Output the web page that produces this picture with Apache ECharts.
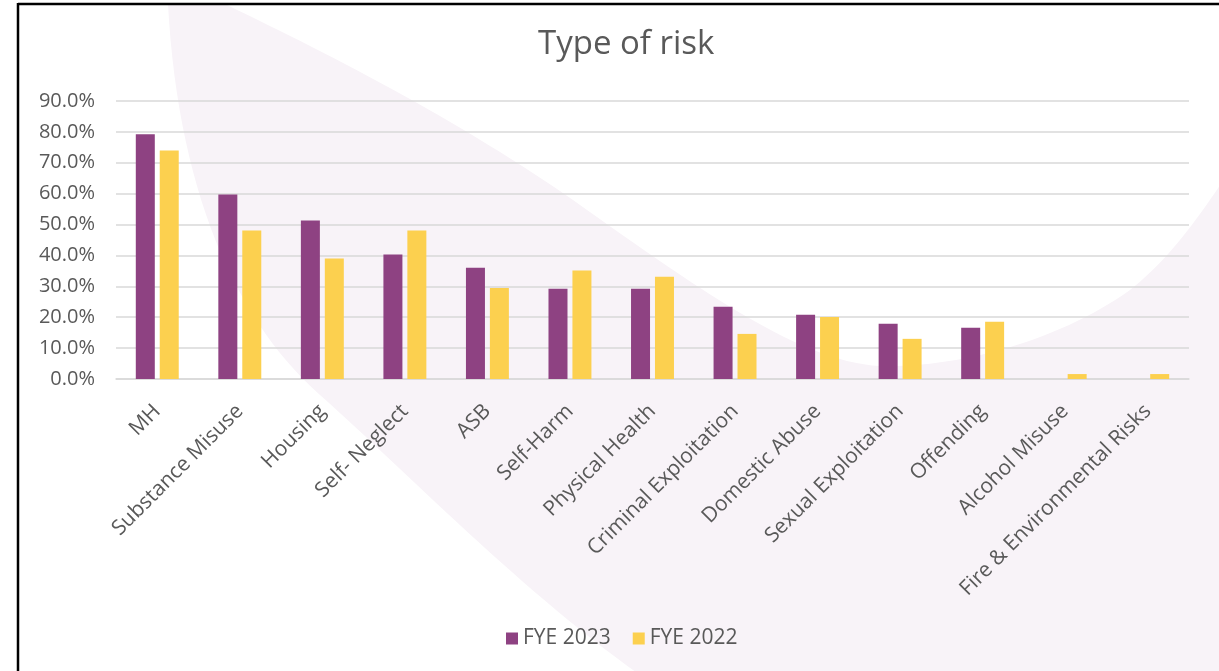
<!DOCTYPE html>
<html>
<head>
<meta charset="utf-8">
<script src="https://cdn.jsdelivr.net/npm/echarts@6/dist/echarts.min.js"></script>
<style>
html,body{margin:0;padding:0;background:#fff;}
#c{width:1219px;height:671px;}
</style>
</head>
<body>
<div id="c"></div>
<script>
const categories = ["MH","Substance Misuse","Housing","Self- Neglect","ASB","Self-Harm","Physical Health","Criminal Exploitation","Domestic Abuse","Sexual Exploitation","Offending","Alcohol Misuse","Fire & Environmental Risks"];
const fye2023 = [79.2, 59.7, 51.3, 40.3, 36.0, 29.2, 29.2, 23.4, 20.8, 17.9, 16.6, 0, 0];
const fye2022 = [74.0, 48.1, 39.0, 48.1, 29.5, 35.1, 33.1, 14.6, 20.1, 13.0, 18.5, 1.6, 1.6];
const seriesNames = ["FYE 2023", "FYE 2022"];
const yTicks = {min: 0, max: 90, interval: 10};

// decorative background crescent, sampled from cubic bezier segments
function bez(p0, p1, p2, p3, n) {
  const out = [];
  for (let i = 1; i <= n; i++) {
    const t = i / n, u = 1 - t;
    out.push([
      u*u*u*p0[0] + 3*u*u*t*p1[0] + 3*u*t*t*p2[0] + t*t*t*p3[0],
      u*u*u*p0[1] + 3*u*u*t*p1[1] + 3*u*t*t*p2[1] + t*t*t*p3[1]
    ]);
  }
  return out;
}
let crescent = [[168,4]];
crescent = crescent.concat(bez([168,4],[178,190],[235,320],[320,395],30));
crescent = crescent.concat(bez([320,395],[410,475],[520,590],[640,675],30));
crescent.push([1225,675],[1225,178]);
crescent = crescent.concat(bez([1225,178],[1190,230],[1165,262],[1130,290],20));
crescent = crescent.concat(bez([1130,290],[1060,340],[960,368],[880,366],30));
crescent = crescent.concat(bez([880,366],[800,362],[700,290],[573,200],30));
crescent = crescent.concat(bez([573,200],[450,115],[330,55],[225,4],30));

const chart = echarts.init(document.getElementById('c'));
const font = "'Open Sans', 'Liberation Sans', sans-serif";
chart.setOption({
  animation: false,
  backgroundColor: '#ffffff',
  textStyle: {fontFamily: font},
  graphic: {elements: [
    {type: 'polygon', z: -100, silent: true, shape: {points: crescent}, style: {fill: '#F8F3F8'}},
    {type: 'line', z: 100, silent: true, shape: {x1: 18, y1: 4, x2: 1225, y2: 4}, style: {stroke: '#000', lineWidth: 2.5}},
    {type: 'line', z: 100, silent: true, shape: {x1: 18, y1: 3, x2: 18, y2: 675}, style: {stroke: '#000', lineWidth: 2.5}}
  ]},
  title: {
    text: 'Type of risk', left: 533, top: 23,
    textStyle: {fontFamily: font, fontSize: 33, fontWeight: 'normal', color: '#595959'}
  },
  legend: {
    data: seriesNames, left: 501, top: 623,
    itemWidth: 12, itemHeight: 12, itemGap: 22,
    icon: 'rect',
    textStyle: {fontFamily: font, fontSize: 21, color: '#595959'}
  },
  grid: {left: 116, right: 30, top: 101, bottom: 292, containLabel: false},
  xAxis: {
    type: 'category', data: categories,
    axisLine: {lineStyle: {color: '#D9D9D9', width: 1.5}},
    axisTick: {show: false},
    axisLabel: {rotate: 45, interval: 0, margin: 29, fontFamily: font, fontSize: 21, color: '#595959'}
  },
  yAxis: {
    type: 'value', min: yTicks.min, max: yTicks.max, interval: yTicks.interval,
    axisLine: {show: false}, axisTick: {show: false},
    splitLine: {lineStyle: {color: '#D9D9D9', width: 1.5}},
    axisLabel: {margin: 21, fontFamily: font, fontSize: 20, color: '#595959',
      formatter: v => v.toFixed(1) + '%'}
  },
  series: [
    {name: seriesNames[0], type: 'bar', data: fye2023, barWidth: 19, barGap: '26%', itemStyle: {color: '#8E4282'}},
    {name: seriesNames[1], type: 'bar', data: fye2022, barWidth: 19, barGap: '26%', itemStyle: {color: '#FCD04F'}}
  ]
});
</script>
</body>
</html>
